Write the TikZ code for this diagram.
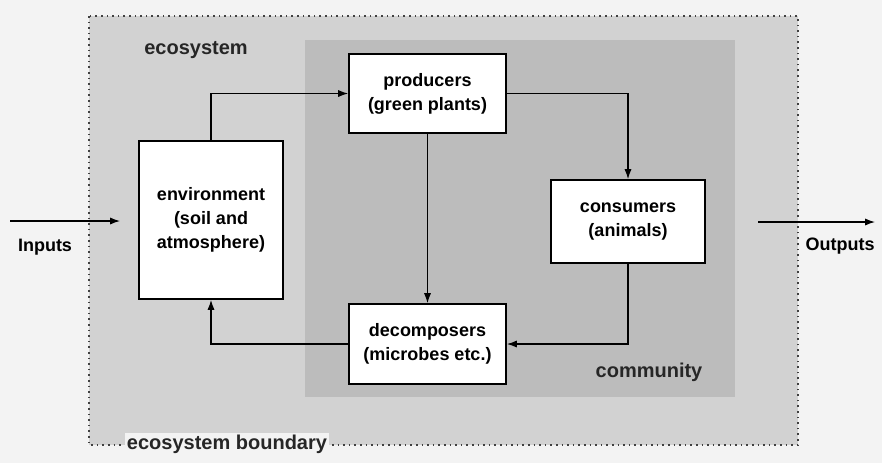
\documentclass[tikz,border=0pt]{standalone}
\usepackage{fontspec}
\setmainfont{Liberation Sans}
\usetikzlibrary{arrows.meta}
\definecolor{paper}{HTML}{F3F3F3}
\definecolor{ecofill}{HTML}{D2D2D2}
\definecolor{comfill}{HTML}{BCBCBC}
\begin{document}
\begin{tikzpicture}[x=0.5pt,y=-0.5pt,
  font=\fontsize{9}{12}\selectfont\bfseries,
  compbox/.style={draw=black,line width=0.9pt,fill=white,align=center,inner sep=0pt},
  flow/.style={line width=0.6pt,-{Latex[length=5pt,width=3.6pt]}},
  tag/.style={text=black!85,font=\fontsize{10}{12}\selectfont\bfseries}]
  % canvas
  \fill[paper] (0,0) rectangle (882,463);
  \useasboundingbox (0,0) rectangle (882,463);
  % ecosystem and community regions
  \fill[ecofill] (89,16) rectangle (798,445);
  \fill[comfill] (305,40) rectangle (735,397);
  \draw[dotted,line width=0.8pt,black!75] (89,16) rectangle (798,445);
  % compartments
  \node[compbox,minimum width=72pt,minimum height=79pt] (env) at (211,220)
    {environment\\(soil and\\atmosphere)};
  \node[compbox,minimum width=78.5pt,minimum height=39.5pt] (prod) at (427.5,93.5)
    {producers\\(green plants)};
  \node[compbox,minimum width=77pt,minimum height=41.5pt] (cons) at (628,221.5)
    {consumers\\(animals)};
  \node[compbox,minimum width=78.5pt,minimum height=40pt] (dec) at (427.5,344)
    {decomposers\\(microbes etc.)};
  % region labels
  \node[tag] (ecolab) at (196,50) {ecosystem};
  \node[tag] (comlab) at (649,372) {community};
  \node[tag,fill=paper,inner sep=1pt] (bndlab) at (227,444) {ecosystem boundary};
  % system inputs and outputs
  \coordinate (inA) at (10,221);
  \coordinate (inB) at (120,221);
  \coordinate (outA) at (758,222);
  \coordinate (outB) at (875,222);
  \node (inlab) at (45,247) {Inputs};
  \node (outlab) at (840,246) {Outputs};
  \draw[flow] (inA) -- (inB);
  \draw[flow] (outA) -- (outB);
  % nutrient cycle
  \draw[flow] (env.north) |- (prod.west);
  \draw[flow] (prod.east) -| (cons.north);
  \draw[flow] (prod.south) -- (dec.north);
  \draw[flow] (cons.south) |- (dec.east);
  \draw[flow] (dec.west) -| (env.south);
\end{tikzpicture}
\end{document}
